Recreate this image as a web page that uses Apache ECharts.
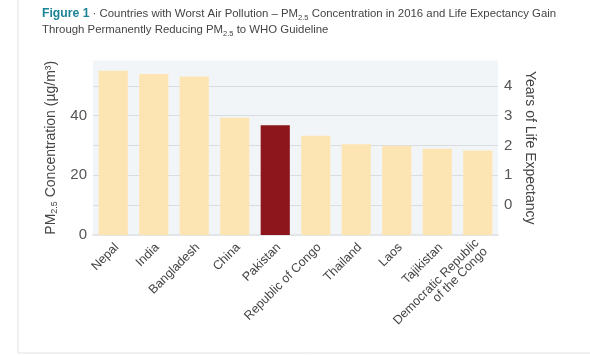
<!DOCTYPE html>
<html>
<head>
<meta charset="utf-8">
<script src="https://cdn.jsdelivr.net/npm/echarts@6/dist/echarts.min.js"></script>
<style>html,body{margin:0;padding:0;background:#fff}#c{width:590px;height:355px}</style>
</head>
<body>
<div id="c"></div>
<script>
const categories = ['Nepal','India','Bangladesh','China','Pakistan','Republic of Congo','Thailand','Laos','Tajikistan','Democratic Republic\nof the Congo'];
const pm25 = [55.1, 54.0, 53.1, 39.3, 36.8, 33.3, 30.4, 29.9, 28.9, 28.3];
const highlighted = 'Pakistan';
const leftLabels = [0, 20, 40];
const rightLabels = [0, 1, 2, 3, 4];
const titleLine1 = '{b|Figure 1}{a| · Countries with Worst Air Pollution – PM}{s|2.5}{a| Concentration in 2016 and Life Expectancy Gain}';
const titleLine2 = '{a|Through Permanently Reducing PM}{s|2.5}{a| to WHO Guideline}';

const chart = echarts.init(document.getElementById('c'), null, {renderer: 'canvas'});
const FONT = '"Liberation Sans", Arial, sans-serif';
const LMAX = 58.5;
chart.setOption({
  animation: false,
  backgroundColor: '#fff',
  graphic: [{
    type: 'rect', silent: true, z: -10,
    shape: {x: 18, y: -2, width: 600, height: 355},
    style: {fill: 'none', stroke: '#e2e2e2', lineWidth: 1}
  }, {
    type: 'text', silent: true,
    x: 42, y: 5.5,
    style: {
      text: titleLine1 + '\n' + titleLine2,
      fill: '#444',
      fontFamily: FONT, fontSize: 11.4,
      rich: {
        b: {fontFamily: FONT, fontWeight: 'bold', fontSize: 12.2, fill: '#1b8496', lineHeight: 16},
        a: {fontFamily: FONT, fontSize: 11.4, fill: '#444', lineHeight: 16},
        s: {fontFamily: FONT, fontSize: 7.5, fill: '#444', lineHeight: 8, verticalAlign: 'bottom'}
      }
    }
  }],
  grid: {left: 93, right: 92, top: 60.5, bottom: 120, show: true, backgroundColor: '#f2f5f7', borderWidth: 0},
  xAxis: {
    type: 'category',
    data: categories.map((c, i) => i === categories.length - 1
      ? {value: c, textStyle: {padding: [14, -5, 0, 0]}}
      : c),
    axisLine: {show: true, lineStyle: {color: '#e3e6e8', width: 2}},
    axisTick: {show: false},
    axisLabel: {rotate: 45, fontFamily: FONT, fontSize: 12.5, color: '#444', margin: 14, interval: 0, lineHeight: 12,
      padding: [0, -5, 0, 0]}
  },
  yAxis: [{
    type: 'value', min: 0, max: LMAX, interval: 10,
    name: '{a|PM}{s|2.5}{a| Concentration (µg/m³)}',
    nameLocation: 'middle', nameGap: 25,
    nameTextStyle: {
      rich: {
        a: {fontFamily: FONT, fontSize: 14, color: '#444', lineHeight: 16},
        s: {fontFamily: FONT, fontSize: 9, color: '#444', lineHeight: 9, verticalAlign: 'bottom'}
      }
    },
    axisLine: {show: false}, axisTick: {show: false},
    axisLabel: {fontFamily: FONT, fontSize: 15, color: '#555', margin: 6,
      formatter: v => leftLabels.includes(v) ? String(v) : ''},
    splitLine: {lineStyle: {color: ['#dadde0','#dadde0','#dadde0','#dadde0','#dadde0','#dadde0','rgba(0,0,0,0)'], width: 1}}
  }, {
    type: 'value', min: -1, max: LMAX / 10 - 1, interval: 1,
    name: 'Years of Life Expectancy',
    nameLocation: 'middle', nameGap: 21, nameRotate: -90,
    nameTextStyle: {fontFamily: FONT, fontSize: 14, color: '#444'},
    axisLine: {show: false}, axisTick: {show: false},
    axisLabel: {fontFamily: FONT, fontSize: 15, color: '#555', margin: 6,
      formatter: v => rightLabels.includes(v) ? String(v) : ''},
    splitLine: {show: false}
  }],
  series: [{
    type: 'bar',
    yAxisIndex: 0,
    barWidth: '72%',
    data: pm25.map((v, i) => ({
      value: v,
      itemStyle: {color: categories[i] === highlighted ? '#8c161b' : '#fde5b3'}
    }))
  }]
});
</script>
</body>
</html>
